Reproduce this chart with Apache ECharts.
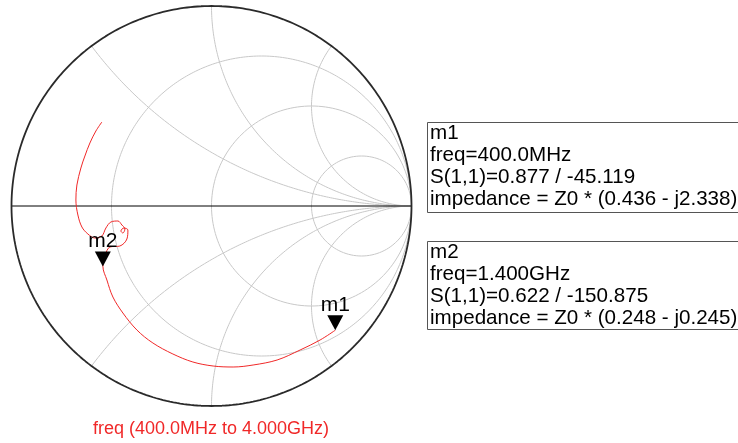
<!DOCTYPE html>
<html>
<head>
<meta charset="utf-8">
<script src="https://cdn.jsdelivr.net/npm/echarts@6/dist/echarts.min.js"></script>
<style>
  html, body { margin: 0; padding: 0; background: #fff; }
  #chart { width: 738px; height: 443px; }
</style>
</head>
<body>
<div id="chart"></div>
<script>
// smith chart grid values
const rCircles = [1 / 3, 1, 3]
const xArcs = [0.5, 1, 2, -0.5, -1, -2]

// S(1,1) trace, reflection coefficient (real, imag), 400MHz -> 4GHz
const traceRe = [0.619, 0.543, 0.443, 0.328, 0.208, 0.108, 0.008, -0.093, -0.193, -0.293,
  -0.373, -0.443, -0.493, -0.523, -0.543, -0.533, -0.508, -0.458, -0.423, -0.418,
  -0.438, -0.453, -0.443, -0.433, -0.448, -0.468, -0.503, -0.528, -0.548, -0.583,
  -0.618, -0.648, -0.668, -0.678, -0.673, -0.653, -0.633, -0.608, -0.578, -0.548]
const traceIm = [-0.621, -0.670, -0.720, -0.770, -0.795, -0.805, -0.800, -0.780, -0.740, -0.685,
  -0.620, -0.535, -0.455, -0.370, -0.302, -0.250, -0.205, -0.200, -0.165, -0.120,
  -0.110, -0.125, -0.135, -0.115, -0.095, -0.075, -0.080, -0.110, -0.150, -0.160,
  -0.140, -0.105, -0.045, 0.030, 0.105, 0.190, 0.250, 0.315, 0.375, 0.420]

// markers
const markerNames = ['m1', 'm2']
const markerFreqs = ['400.0MHz', '1.400GHz']
const markerMag = [0.877, 0.622]
const markerAng = [-45.119, -150.875]
const markerZRe = [0.436, 0.248]
const markerZIm = [-2.338, -0.245]

const freqRange = 'freq (400.0MHz to 4.000GHz)'

const gridColor = '#c8c8c8'
const font = '"Liberation Sans", Arial, sans-serif'

const toGamma = (r, x) => {
  // (z - 1) / (z + 1)
  const d = (r + 1) * (r + 1) + x * x
  return [(r * r + x * x - 1) / d, (2 * x) / d]
}

const circlePts = (cx, cy, rad) => {
  const pts = []
  for (let i = 0; i <= 360; i++) {
    const a = i * Math.PI / 180
    pts.push([cx + rad * Math.cos(a), cy + rad * Math.sin(a)])
  }
  return pts
}

const arcPts = (x) => {
  const pts = []
  for (let i = 0; i <= 400; i++) {
    const r = Math.tan((i / 400) * Math.PI / 2 * 0.99999)
    pts.push(toGamma(r, x))
  }
  pts.push([1, 0])
  return pts
}

const lineSeries = (data, color, width, z) => ({
  type: 'line',
  data,
  showSymbol: false,
  symbol: 'none',
  silent: true,
  z: z || 1,
  lineStyle: { color, width }
})

const series = []
rCircles.forEach(r => series.push(lineSeries(circlePts(r / (1 + r), 0, 1 / (1 + r)), gridColor, 1)))
xArcs.forEach(x => series.push(lineSeries(arcPts(x), gridColor, 1)))
series.push(lineSeries([[-1, 0], [1, 0]], '#000', 1, 2))
series.push(lineSeries(circlePts(0, 0, 1), '#2a2a2a', 1.8, 2))

series.push({
  type: 'line',
  data: traceRe.map((v, i) => [v, traceIm[i]]),
  showSymbol: false,
  symbol: 'none',
  smooth: 0.35,
  z: 3,
  lineStyle: { color: '#f02828', width: 1 }
})

const markerPts = markerNames.map((n, i) => {
  const a = markerAng[i] * Math.PI / 180
  return { name: n, value: [markerMag[i] * Math.cos(a), markerMag[i] * Math.sin(a)] }
})

series.push({
  type: 'scatter',
  data: markerPts,
  symbol: 'triangle',
  symbolRotate: 180,
  symbolSize: [16, 15],
  symbolOffset: [0, -7.5],
  z: 4,
  itemStyle: { color: '#000', opacity: 1 },
  label: {
    show: true,
    position: 'top',
    distance: 0,
    formatter: p => p.name,
    color: '#000',
    fontSize: 21,
    fontFamily: font
  }
})

const boxText = (i) => [
  markerNames[i],
  'freq=' + markerFreqs[i],
  'S(1,1)=' + markerMag[i].toFixed(3) + ' / ' + markerAng[i].toFixed(3),
  'impedance = Z0 * (' + markerZRe[i].toFixed(3) + ' - j' + Math.abs(markerZIm[i]).toFixed(3) + ')'
].join('\n')

const boxTops = [122.5, 241.5]
const boxHeights = [90, 88]

const graphic = []
boxTops.forEach((top, i) => {
  graphic.push({
    type: 'rect',
    shape: { x: 427.5, y: top, width: 330, height: boxHeights[i] },
    style: { fill: '#fff', stroke: '#555', lineWidth: 1 }
  })
  graphic.push({
    type: 'text',
    x: 430,
    y: top,
    style: {
      text: boxText(i),
      font: '20.6px ' + font,
      lineHeight: 22,
      fill: '#000',
      verticalAlign: 'top'
    }
  })
})
graphic.push({
  type: 'text',
  x: 211,
  y: 429,
  style: {
    text: freqRange,
    font: '18px ' + font,
    fill: '#f02828',
    align: 'center',
    verticalAlign: 'middle'
  }
})

const chart = echarts.init(document.getElementById('chart'))
chart.setOption({
  animation: false,
  grid: { left: 11.5, top: 6, width: 400, height: 400 },
  xAxis: { type: 'value', min: -1, max: 1, show: false },
  yAxis: { type: 'value', min: -1, max: 1, show: false },
  series,
  graphic
})
</script>
</body>
</html>
